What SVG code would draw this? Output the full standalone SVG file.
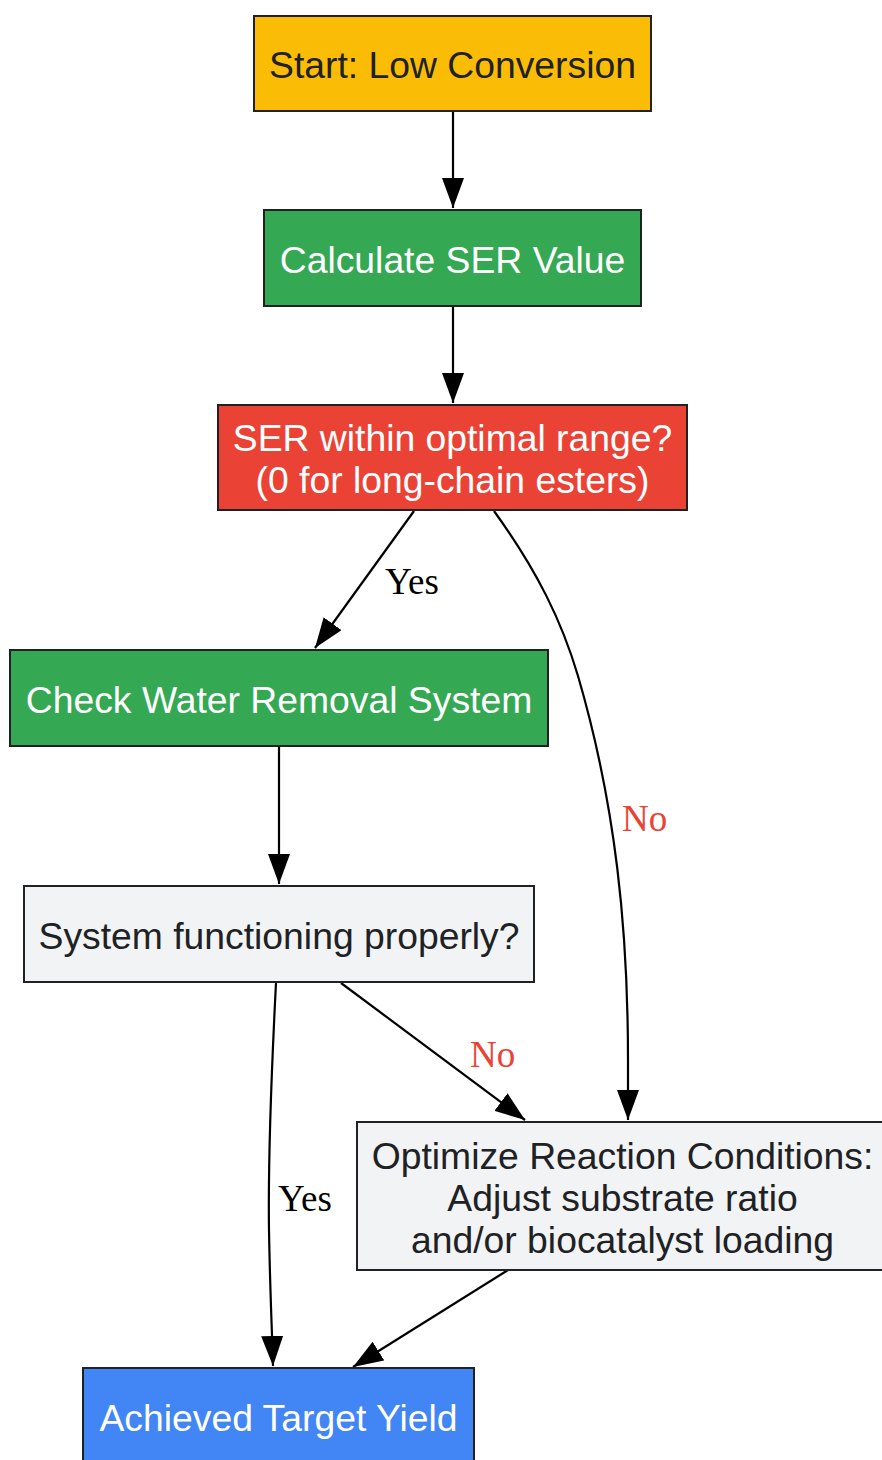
<svg xmlns="http://www.w3.org/2000/svg" width="882" height="1460" viewBox="0 0 882 1460">
<style>
.box{stroke:#202124;stroke-width:2}
.nt{font-family:"Liberation Sans",Arial,sans-serif;font-size:37.3px;text-anchor:middle}
.dark{fill:#202124}
.light{fill:#ffffff}
.edge{fill:none;stroke:#000;stroke-width:2.2;marker-end:url(#arr)}
.el{font-family:"Liberation Serif","Times New Roman",serif;font-size:37px}
.yes{fill:#000}
.no{fill:#EA4335}
</style>
<defs>
<marker id="arr" markerUnits="userSpaceOnUse" markerWidth="30" markerHeight="22" refX="30" refY="11" orient="auto" viewBox="0 0 30 22">
<path d="M0,0 L30,11 L0,22 z" fill="#000"/>
</marker>
</defs>
<rect width="882" height="1460" fill="#fff"/>
<g id="edges">
<path class="edge" d="M453,111 L453,208"/>
<path class="edge" d="M453,306 L453,403"/>
<path class="edge" d="M414,511 L315,648"/>
<text class="el yes" x="385" y="594">Yes</text>
<path class="edge" d="M494,511 C538,572 562,622 578,676 C616,806 628,930 628,1060 L628,1120"/>
<text class="el no" x="622" y="831">No</text>
<path class="edge" d="M341,983 L525,1120"/>
<text class="el no" x="470" y="1067">No</text>
<path class="edge" d="M279,746 L279,884"/>
<path class="edge" d="M276,983 C271,1080 268,1160 269,1230 C270,1290 272,1330 273,1366"/>
<text class="el yes" x="278" y="1211">Yes</text>
<path class="edge" d="M508,1270 L353,1367"/>
</g>
<g id="start">
<rect class="box" x="254" y="16" width="397" height="95" fill="#FBBC05"/>
<text class="nt dark" x="452.5" y="78">Start: Low Conversion</text>
</g>
<g id="calc">
<rect class="box" x="264" y="210" width="377" height="96" fill="#34A853"/>
<text class="nt light" x="452.5" y="273">Calculate SER Value</text>
</g>
<g id="ser">
<rect class="box" x="218" y="405" width="469" height="105" fill="#EA4335"/>
<text class="nt light" x="452.5" y="451">SER within optimal range?</text>
<text class="nt light" x="452.5" y="493">(0 for long-chain esters)</text>
</g>
<g id="water">
<rect class="box" x="10" y="650" width="538" height="96" fill="#34A853"/>
<text class="nt light" x="279" y="713">Check Water Removal System</text>
</g>
<g id="system">
<rect class="box" x="24" y="886" width="510" height="96" fill="#F1F3F4"/>
<text class="nt dark" x="279" y="949">System functioning properly?</text>
</g>
<g id="optimize">
<rect class="box" x="357" y="1122" width="531" height="148" fill="#F1F3F4"/>
<text class="nt dark" x="622.5" y="1169">Optimize Reaction Conditions:</text>
<text class="nt dark" x="622.5" y="1211">Adjust substrate ratio</text>
<text class="nt dark" x="622.5" y="1253">and/or biocatalyst loading</text>
</g>
<g id="achieved">
<rect class="box" x="83" y="1368" width="391" height="96" fill="#4285F4"/>
<text class="nt light" x="278.5" y="1431">Achieved Target Yield</text>
</g>
</svg>
